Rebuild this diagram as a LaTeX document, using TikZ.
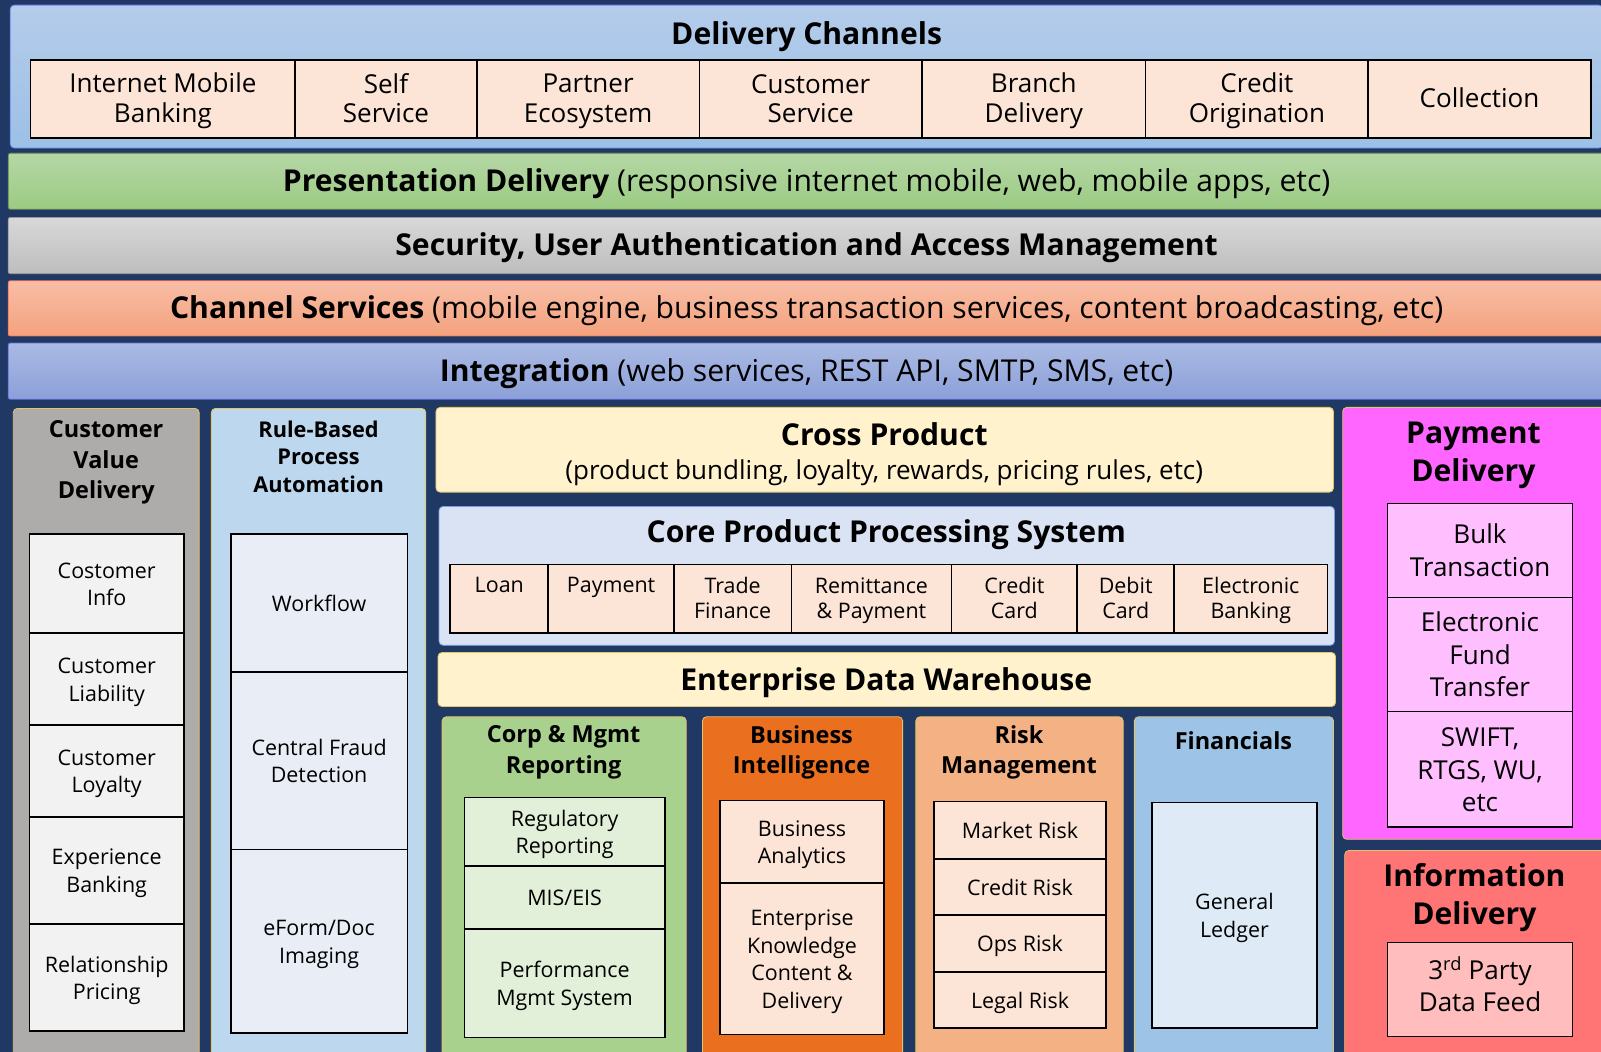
\documentclass[tikz,border=0pt]{standalone}
\usepackage{fontspec}
\setmainfont{Open Sans}
\definecolor{navy}{HTML}{203864}
\definecolor{peach}{HTML}{FCE4D6}
\definecolor{dcTop}{HTML}{B4CCEA}
\definecolor{dcBot}{HTML}{9DC0E6}
\definecolor{presTop}{HTML}{B5D7A6}
\definecolor{presBot}{HTML}{9BCB82}
\definecolor{secTop}{HTML}{D8D8D8}
\definecolor{secBot}{HTML}{BDBDBD}
\definecolor{chTop}{HTML}{F8BDA5}
\definecolor{chBot}{HTML}{F4A27E}
\definecolor{intTop}{HTML}{AABAE4}
\definecolor{intBot}{HTML}{8CA0D8}
\definecolor{cvdFill}{HTML}{AEABAB}
\definecolor{cvdCell}{HTML}{F2F2F2}
\definecolor{rbFill}{HTML}{BDD7EE}
\definecolor{rbCell}{HTML}{E9EDF6}
\definecolor{cream}{HTML}{FFF2CC}
\definecolor{coreFill}{HTML}{DAE3F3}
\definecolor{corpFill}{HTML}{A9D18E}
\definecolor{corpCell}{HTML}{E2EFD9}
\definecolor{biFill}{HTML}{EA7020}
\definecolor{riskFill}{HTML}{F4B183}
\definecolor{finFill}{HTML}{9DC3E6}
\definecolor{finCell}{HTML}{DEEBF7}
\definecolor{payFill}{HTML}{FF66FF}
\definecolor{payCell}{HTML}{FFBFFF}
\definecolor{infoFill}{HTML}{FF7575}
\definecolor{infoCell}{HTML}{FFBDBD}
\definecolor{goldLine}{HTML}{E2C46A}
\newcommand\fbig{\fontsize{29.5}{37}\selectfont\bfseries}
\newcommand\fbar{\fontsize{29.5}{34}\selectfont}
\newcommand\fhead{\fontsize{23}{29.5}\selectfont\bfseries}
\newcommand\fheadsm{\fontsize{21.3}{27}\selectfont\bfseries}
\newcommand\fchan{\fontsize{25.5}{29}\selectfont}
\newcommand\fcell{\fontsize{21}{27}\selectfont}
\newcommand\fcore{\fontsize{21}{24}\selectfont}
\newcommand\fsub{\fontsize{25.5}{30}\selectfont}
\newcommand\fpay{\fontsize{25.5}{32}\selectfont}
\newcommand\vstrut{\rule[-0.2\baselineskip]{0pt}{\baselineskip}}
\begin{document}
\begin{tikzpicture}[x=1pt,y=-1pt,
  panel/.style={draw=#1, line width=0.8pt, rounded corners=4pt, inner sep=0pt},
  bar/.style={draw=#1, line width=0.8pt, rounded corners=2pt, inner sep=0pt, font=\fbar,
    execute at begin node=\vstrut, execute at end node=\vstrut},
  cell/.style={draw=black, line width=1.6pt, align=center, inner sep=0pt,
    execute at begin node=\vstrut, execute at end node=\vstrut},
  hd/.style={align=center, inner sep=0pt,
    execute at begin node=\vstrut, execute at end node=\vstrut}]
\useasboundingbox (0,0) rectangle (1568,1030);
\clip (0,0) rectangle (1568,1030);
\fill[navy] (0,0) rectangle (1568,1030);

% delivery channels
\node[panel=dcBot!70!blue, top color=dcTop, bottom color=dcBot, minimum width=1560, minimum height=140] (dc) at (790,75) {};
\node[hd, font=\fbig] (dctitle) at (790,32) {Delivery Channels};
\foreach \xa/\xb/\txt [count=\i] in {30/289/{Internet Mobile\\Banking}, 289/467/{Self\\Service}, 467/685/{Partner\\Ecosystem}, 685/903/{Customer\\Service}, 903/1122/{Branch\\Delivery}, 1122/1340/{Credit\\Origination}, 1340/1558/Collection}
  \node[cell, fill=peach, font=\fchan, minimum width=\xb-\xa, minimum height=76] (ch\i) at ({(\xa+\xb)/2},97) {\vstrut\txt};

% horizontal layers
\node[bar=presBot!60!black, top color=presTop, bottom color=presBot, minimum width=1564, minimum height=55] (pres) at (790,177.5) {\textbf{Presentation Delivery} (responsive internet mobile, web, mobile apps, etc)};
\node[bar=secBot!80!black, top color=secTop, bottom color=secBot, minimum width=1564, minimum height=55] (sec) at (790,240.5) {\textbf{Security, User Authentication and Access Management}};
\node[bar=chBot!70!red, top color=chTop, bottom color=chBot, minimum width=1564, minimum height=54] (chs) at (790,302) {\textbf{Channel Services} (mobile engine, business transaction services, content broadcasting, etc)};
\node[bar=intBot!70!blue, top color=intTop, bottom color=intBot, minimum width=1564, minimum height=55] (integ) at (790,363.5) {\textbf{Integration} (web services, REST API, SMTP, SMS, etc)};

% customer value delivery
\node[panel=goldLine, fill=cvdFill, minimum width=182, minimum height=640] (cvd) at (104,720) {};
\node[hd, font=\fhead] (cvdtitle) at (104,453) {Customer\\Value\\Delivery};
\foreach \ya/\yb/\txt [count=\i] in {523/620/{Costomer\\Info}, 620/710/{Customer\\Liability}, 710/800/{Customer\\Loyalty}, 800/905/{Experience\\Banking}, 905/1010/{Relationship\\Pricing}}
  \node[cell, fill=cvdCell, font=\fcell, minimum width=151, minimum height=\yb-\ya] (cv\i) at (104.5,{(\ya+\yb)/2}) {\vstrut\txt};

% rule-based process automation
\node[panel=goldLine, fill=rbFill, minimum width=210, minimum height=640] (rb) at (312,720) {};
\node[hd, font=\fheadsm] (rbtitle) at (312,450) {Rule-Based\\Process\\Automation};
\foreach \ya/\yb/\txt [count=\i] in {523/658/Workflow, 658/832/{Central Fraud\\Detection}, 832/1012/{eForm/Doc\\Imaging}}
  \node[cell, fill=rbCell, font=\fcell, minimum width=173, minimum height=\yb-\ya] (rb\i) at (312.5,{(\ya+\yb)/2}) {\vstrut\txt};

% cross product
\node[panel=goldLine, fill=cream, minimum width=879, minimum height=83] (cross) at (866.5,440.5) {};
\node[hd, font=\fbig] (crosstitle) at (866,425) {Cross Product};
\node[hd, font=\fsub] (crosssub) at (866,461) {(product bundling, loyalty, rewards, pricing rules, etc)};

% core product processing system
\node[panel=finFill!80!blue, fill=coreFill, minimum width=877, minimum height=136] (core) at (868.5,564) {};
\node[hd, font=\fbig] (coretitle) at (868,520) {Core Product Processing System};
\foreach \xa/\xb/\txt [count=\i] in {441/537/{Loan\\\strut}, 537/660/{Payment\\\strut}, 660/775/{Trade\\Finance}, 775/932/{Remittance\\\& Payment}, 932/1055/{Credit\\Card}, 1055/1150/{Debit\\Card}, 1150/1300/{Electronic\\Banking}}
  \node[cell, fill=peach, font=\fcore, minimum width=\xb-\xa, minimum height=67] (cp\i) at ({(\xa+\xb)/2},586.5) {\vstrut\txt};

% enterprise data warehouse
\node[panel=goldLine, fill=cream, minimum width=879, minimum height=53] (edw) at (868.5,665.5) {};
\node[hd, font=\fbig] (edwtitle) at (868,665) {Enterprise Data Warehouse};

% corp & mgmt reporting
\node[panel=goldLine, fill=corpFill, minimum width=239, minimum height=338] (corp) at (552.5,871) {};
\node[hd, font=\fhead] (corptitle) at (552,737) {Corp \& Mgmt\\Reporting};
\foreach \ya/\yb/\txt [count=\i] in {781/848/{Regulatory\\Reporting}, 848/910/{MIS/EIS}, 910/1016/{Performance\\Mgmt System}}
  \node[cell, fill=corpCell, font=\fcell, minimum width=196, minimum height=\yb-\ya] (cr\i) at (553,{(\ya+\yb)/2}) {\vstrut\txt};

% business intelligence
\node[panel=goldLine, fill=biFill, minimum width=196, minimum height=338] (bi) at (786,871) {};
\node[hd, font=\fhead] (bititle) at (785,737) {Business\\Intelligence};
\foreach \ya/\yb/\txt [count=\i] in {784/865/{Business\\Analytics}, 865/1013/{Enterprise\\Knowledge\\Content \&\\Delivery}}
  \node[cell, fill=peach, font=\fcell, minimum width=161, minimum height=\yb-\ya] (bi\i) at (785.5,{(\ya+\yb)/2}) {\vstrut\txt};

% risk management
\node[panel=goldLine, fill=riskFill, minimum width=203, minimum height=338] (risk) at (998.5,871) {};
\node[hd, font=\fhead] (risktitle) at (998,737) {Risk\\Management};
\foreach \ya/\yb/\txt [count=\i] in {785/841/Market Risk, 841/896/Credit Risk, 896/952/Ops Risk, 952/1007/Legal Risk}
  \node[cell, fill=peach, font=\fcell, minimum width=168, minimum height=\yb-\ya] (rk\i) at (999,{(\ya+\yb)/2}) {\vstrut\txt};

% financials
\node[panel=goldLine, fill=finFill, minimum width=195, minimum height=338] (fin) at (1208.5,871) {};
\node[hd, font=\fhead] (fintitle) at (1208,725) {Financials};
\node[cell, fill=finCell, font=\fcell, minimum width=162, minimum height=221] (gl) at (1209,896.5) {\vstrut General\\Ledger};

% payment delivery
\node[panel=goldLine, fill=payFill, minimum width=263, minimum height=423] (pay) at (1446.5,610.5) {};
\node[hd, font=\fbig] (paytitle) at (1443,446.5) {Payment\\Delivery};
\foreach \ya/\yb/\txt [count=\i] in {493/585/{Bulk\\Transaction}, 585/697/{Electronic\\Fund\\Transfer}, 697/810/{SWIFT,\\RTGS, WU,\\etc}}
  \node[cell, fill=payCell, font=\fpay, minimum width=181, minimum height=\yb-\ya] (py\i) at (1449.5,{(\ya+\yb)/2}) {\vstrut\txt};

% information delivery
\node[panel=goldLine, fill=infoFill, minimum width=261, minimum height=207] (info) at (1447.5,936.5) {};
\node[hd, font=\fbig] (infotitle) at (1444,879.5) {Information\\Delivery};
\node[cell, fill=infoCell, font=\fpay, minimum width=181, minimum height=92] (feed) at (1449.5,969) {3\smash{\textsuperscript{rd}} Party\\Data Feed};
\end{tikzpicture}
\end{document}
